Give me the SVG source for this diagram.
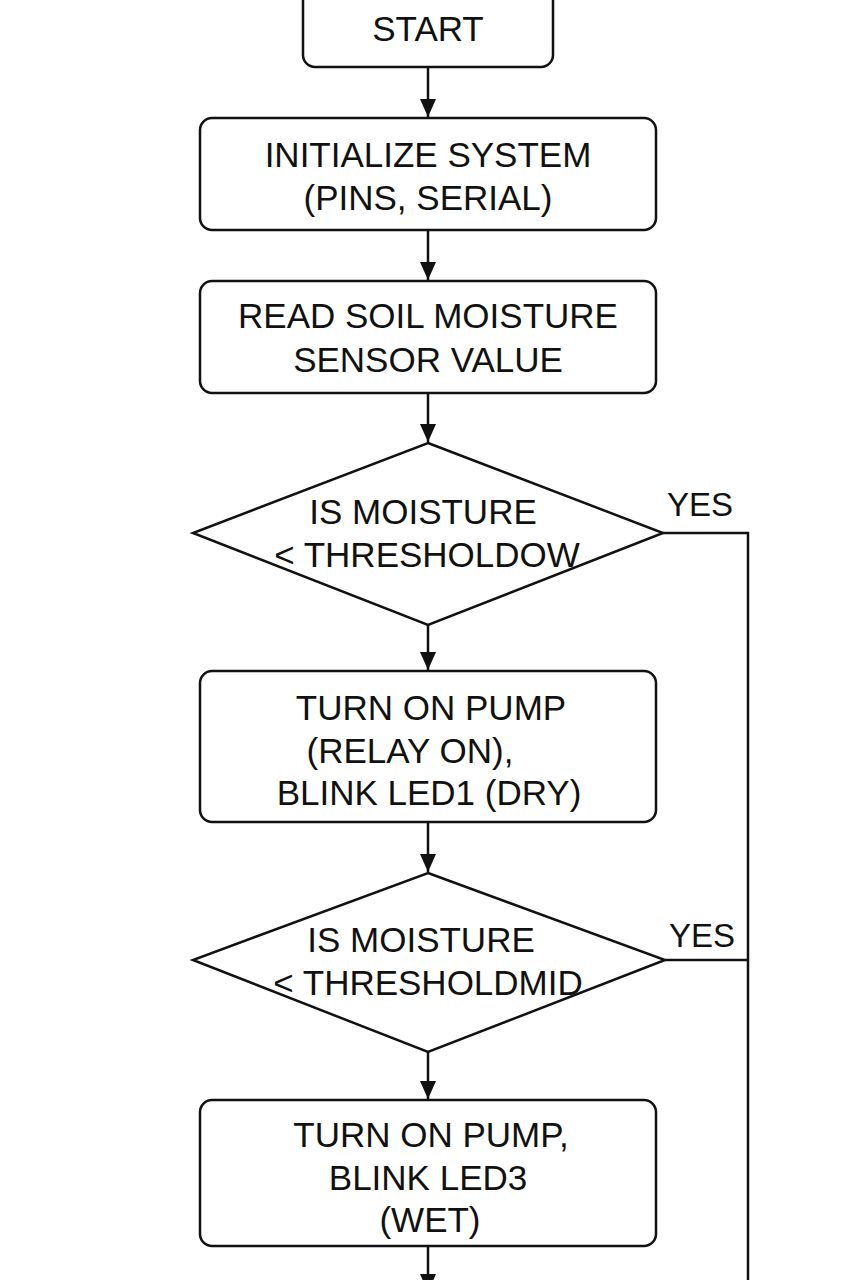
<svg xmlns="http://www.w3.org/2000/svg" width="853" height="1280" viewBox="0 0 853 1280">
<defs>
<style>
.box{fill:#fff;stroke:#111;stroke-width:2.5}
.t{font-family:"Liberation Sans",Arial,sans-serif;font-size:35px;fill:#111;text-anchor:middle}
.lbl{font-family:"Liberation Sans",Arial,sans-serif;font-size:33px;fill:#111}
.c{fill:none;stroke:#111;stroke-width:2.5}
</style>
<marker id="arr" markerWidth="18" markerHeight="16" refX="18" refY="8" orient="auto" markerUnits="userSpaceOnUse" viewBox="0 0 18 16">
<path d="M0,0 L18,8 L0,16 Z" fill="#111"/>
</marker>
</defs>
<rect width="853" height="1280" fill="#fff"/>
<g id="connectors">
<line class="c" x1="428" y1="67" x2="428" y2="117" marker-end="url(#arr)"/>
<line class="c" x1="428" y1="230" x2="428" y2="280" marker-end="url(#arr)"/>
<line class="c" x1="428" y1="393" x2="428" y2="442" marker-end="url(#arr)"/>
<line class="c" x1="428" y1="625" x2="428" y2="670" marker-end="url(#arr)"/>
<line class="c" x1="428" y1="822" x2="428" y2="872" marker-end="url(#arr)"/>
<line class="c" x1="428" y1="1052" x2="428" y2="1099" marker-end="url(#arr)"/>
<line class="c" x1="428" y1="1246" x2="428" y2="1292" marker-end="url(#arr)"/>
<polyline class="c" points="663,533 748,533 748,1282"/>
<line class="c" x1="665" y1="960" x2="748" y2="960"/>
<text class="lbl" x="667" y="516">YES</text>
<text class="lbl" x="669" y="947">YES</text>
</g>
<g id="start">
<rect class="box" x="303" y="-14" width="250" height="81" rx="12"/>
<text class="t" x="428" y="41">START</text>
</g>
<g id="init">
<rect class="box" x="200" y="118" width="456" height="112" rx="12"/>
<text class="t" x="428" y="167">INITIALIZE SYSTEM</text>
<text class="t" x="428" y="210">(PINS, SERIAL)</text>
</g>
<g id="read">
<rect class="box" x="200" y="281" width="456" height="112" rx="12"/>
<text class="t" x="428" y="328">READ SOIL MOISTURE</text>
<text class="t" x="428" y="372">SENSOR VALUE</text>
</g>
<g id="decision1">
<polygon class="box" points="428,443 663,533 428,625 193,533"/>
<text class="t" x="423" y="524">IS MOISTURE</text>
<text class="t" x="427" y="567">&lt; THRESHOLDOW</text>
</g>
<g id="pump-dry">
<rect class="box" x="200" y="671" width="456" height="151" rx="12"/>
<text class="t" x="431" y="720">TURN ON PUMP</text>
<text class="t" x="410" y="763">(RELAY ON),</text>
<text class="t" x="429" y="805">BLINK LED1 (DRY)</text>
</g>
<g id="decision2">
<polygon class="box" points="428,873 665,960 428,1052 193,960"/>
<text class="t" x="421" y="952">IS MOISTURE</text>
<text class="t" x="428" y="995">&lt; THRESHOLDMID</text>
</g>
<g id="pump-wet">
<rect class="box" x="200" y="1100" width="456" height="146" rx="12"/>
<text class="t" x="431" y="1147">TURN ON PUMP,</text>
<text class="t" x="428" y="1190">BLINK LED3</text>
<text class="t" x="430" y="1232">(WET)</text>
</g>
</svg>
